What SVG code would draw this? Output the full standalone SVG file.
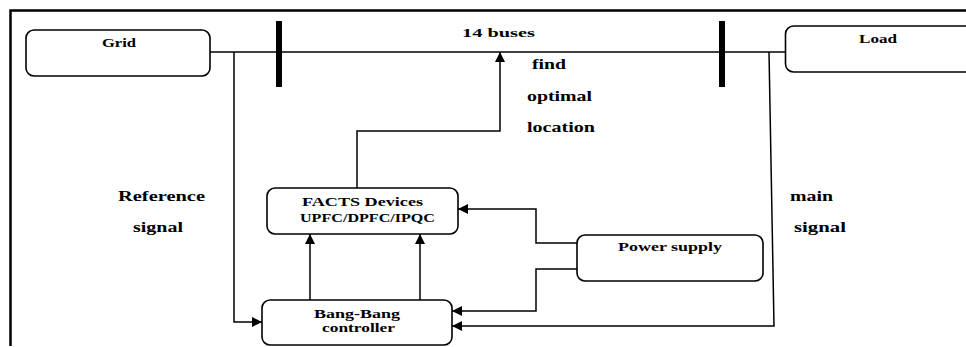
<svg xmlns="http://www.w3.org/2000/svg" width="966" height="347" viewBox="0 0 966 347">
<defs>
<marker id="ah" viewBox="0 0 10 10" refX="10" refY="5" markerWidth="10" markerHeight="10" markerUnits="userSpaceOnUse" orient="auto">
<path d="M0,0 L10,5 L0,10 z" fill="#000"/>
</marker>
</defs>
<style>
.box{fill:#fff;stroke:#000;stroke-width:1.6}
.ln{fill:none;stroke:#000;stroke-width:1.5}
.bar{fill:none;stroke:#000;stroke-width:6}
.t{font-family:"Liberation Serif","Times New Roman","DejaVu Serif",serif;font-weight:bold;font-size:14.5px;fill:#000}
.s{font-size:12.5px}
</style>
<rect width="966" height="347" fill="#fff"/>
<g id="frame">
<path d="M10.5,346 L10.5,10.5 L966,10.5" fill="none" stroke="#000" stroke-width="2.5"/>
</g>
<g id="connectors">
<path class="ln" d="M210,52 L785,52"/>
<path class="bar" d="M279,21 L279,87"/>
<path class="bar" d="M722,21 L722,87"/>
<path class="ln" d="M234,52 L234,322 L262,322" marker-end="url(#ah)"/>
<path class="ln" d="M357,188 L357,131 L500,131 L500,52" marker-end="url(#ah)"/>
<path class="ln" d="M310,300 L310,234" marker-end="url(#ah)"/>
<path class="ln" d="M420,300 L420,234" marker-end="url(#ah)"/>
<path class="ln" d="M577,243 L536,243 L536,209 L458,209" marker-end="url(#ah)"/>
<path class="ln" d="M577,269 L536,269 L536,311 L452,311" marker-end="url(#ah)"/>
<path class="ln" d="M769,52 L774,326 L452,326" marker-end="url(#ah)"/>
</g>
<g id="grid">
<rect class="box" x="26" y="30" width="184" height="46" rx="8"/>
<text class="t s" x="102" y="47" textLength="34" lengthAdjust="spacingAndGlyphs">Grid</text>
</g>
<g id="load">
<rect class="box" x="785.5" y="26" width="190" height="46" rx="8"/>
<text class="t s" x="859" y="43" textLength="38" lengthAdjust="spacingAndGlyphs">Load</text>
</g>
<g id="facts">
<rect class="box" x="267" y="188" width="191" height="46" rx="8"/>
<text class="t s" x="302" y="206" textLength="121" lengthAdjust="spacingAndGlyphs">FACTS Devices</text>
<text class="t s" x="300" y="222" textLength="135" lengthAdjust="spacingAndGlyphs">UPFC/DPFC/IPQC</text>
</g>
<g id="bangbang">
<rect class="box" x="262" y="300" width="190" height="45" rx="8"/>
<text class="t s" x="314" y="318" textLength="86" lengthAdjust="spacingAndGlyphs">Bang-Bang</text>
<text class="t s" x="322" y="332" textLength="73" lengthAdjust="spacingAndGlyphs">controller</text>
</g>
<g id="powersupply">
<rect class="box" x="577" y="235" width="186" height="46" rx="8"/>
<text class="t s" x="618" y="251" textLength="104" lengthAdjust="spacingAndGlyphs">Power supply</text>
</g>
<g id="labels">
<text class="t s" x="462" y="37" textLength="73" lengthAdjust="spacingAndGlyphs">14 buses</text>
<text class="t" x="532" y="69" textLength="34" lengthAdjust="spacingAndGlyphs">find</text>
<text class="t" x="527" y="101" textLength="65" lengthAdjust="spacingAndGlyphs">optimal</text>
<text class="t" x="527" y="132" textLength="68" lengthAdjust="spacingAndGlyphs">location</text>
<text class="t" x="118" y="201" textLength="87" lengthAdjust="spacingAndGlyphs">Reference</text>
<text class="t" x="133" y="232" textLength="50" lengthAdjust="spacingAndGlyphs">signal</text>
<text class="t" x="790" y="201" textLength="43" lengthAdjust="spacingAndGlyphs">main</text>
<text class="t" x="794" y="232" textLength="52" lengthAdjust="spacingAndGlyphs">signal</text>
</g>
</svg>
